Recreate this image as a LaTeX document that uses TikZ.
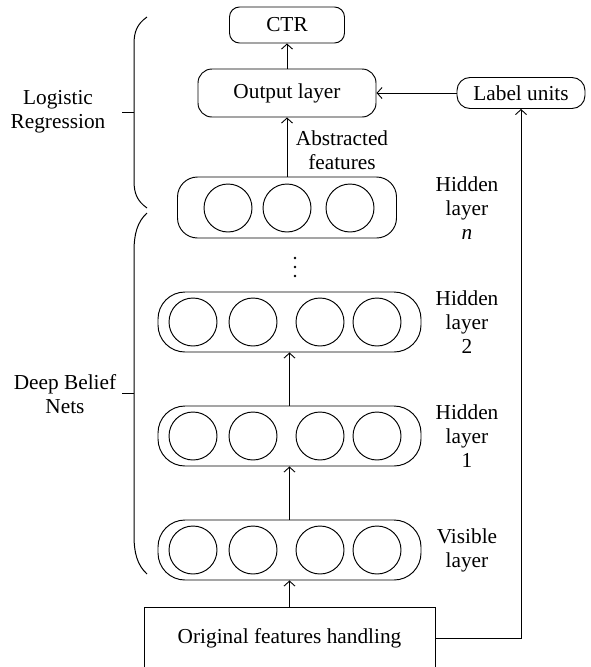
\documentclass[tikz,border=0pt]{standalone}
\usepackage{fontspec}
\setmainfont{Liberation Serif}
\usetikzlibrary{arrows.meta}
\begin{document}
\begin{tikzpicture}[x=1pt,y=-1pt,
  line width=0.95pt,
  font=\fontsize{21.3}{24}\selectfont,
  arr/.style={-{Straight Barb[length=5pt,width=11pt,line width=0.9pt]}},
  rbox/.style={draw,rounded corners=#1,inner sep=0pt},
  unit/.style={draw,circle,minimum size=48pt,inner sep=0pt},
  tag/.style={align=center,inner sep=0pt},
  brace/.style={line width=1pt},
]
\useasboundingbox (0,0) rectangle (590,667);

% top part: logistic regression
\node[rbox=10pt, minimum width=115pt, minimum height=36pt] (ctr) at (287,25) {CTR};
\node[rbox=14pt, minimum width=178pt, minimum height=48pt] (outl) at (287,93) {Output layer};
\node[rbox=13pt, minimum width=128pt, minimum height=31pt] (labu) at (521,93) {Label units};
\node[tag] (abs) at (342,150) {Abstracted\\features};

% hidden layer n (three units)
\node[rbox=20pt, minimum width=219pt, minimum height=61pt] (hidn) at (287,207.5) {};
\foreach \x/\n in {228/a,287/b,350/c}
  \node[unit] (hn\n) at (\x,208) {};

% ellipsis between layer n and layer 2
\foreach \y/\n in {258/a,267/b,276/c}
  \fill (295,\y) circle (1.4pt);

% four-unit layers
\node[rbox=27pt, minimum width=263pt, minimum height=60pt] (hid2) at (289.5,322) {};
\node[rbox=27pt, minimum width=263pt, minimum height=60pt] (hid1) at (289.5,436) {};
\node[rbox=27pt, minimum width=263pt, minimum height=60pt] (vis)  at (289.5,550) {};
\foreach \y/\l in {322/t,436/o,550/v}
  \foreach \x/\n in {193/a,253/b,320/c,377/d}
    \node[unit] (u\l\n) at (\x,\y) {};

% input box
\node[draw, minimum width=291pt, minimum height=62pt, inner sep=0pt] (orig) at (289.5,638) {Original features handling};

% connectors
\draw[arr] (outl.north) -- (ctr.south);
\draw[arr] (hidn.north) -- (outl.south);
\draw[arr] (labu.west) -- (outl.east);
\draw[arr] (hid1.north) -- (hid2.south);
\draw[arr] (vis.north) -- (hid1.south);
\draw[arr] (orig.north) -- (vis.south);
\draw[arr] (orig.east) -| (labu.south);

% layer names
\node[tag] (tn) at (467,208) {Hidden\\layer\\\textit{n}};
\node[tag] (t2) at (467,322) {Hidden\\layer\\2};
\node[tag] (t1) at (467,436) {Hidden\\layer\\1};
\node[tag] (tv) at (467,550) {Visible\\layer};

% braces and their labels
\draw[brace] (147,17) .. controls (137,24) and (134,32) .. (134,44)
  -- (134,181) .. controls (134,193) and (137,201) .. (147,208);
\draw[brace] (122,112.5) -- (134,112.5);
\node[tag] (lr) at (58,112) {Logistic\\Regression};

\draw[brace] (147,213) .. controls (137,222) and (134,235) .. (134,251)
  -- (134,536) .. controls (134,552) and (137,565) .. (147,574);
\draw[brace] (122,393.5) -- (134,393.5);
\node[tag] (dbn) at (65,394) {Deep Belief\\Nets};
\end{tikzpicture}
\end{document}
